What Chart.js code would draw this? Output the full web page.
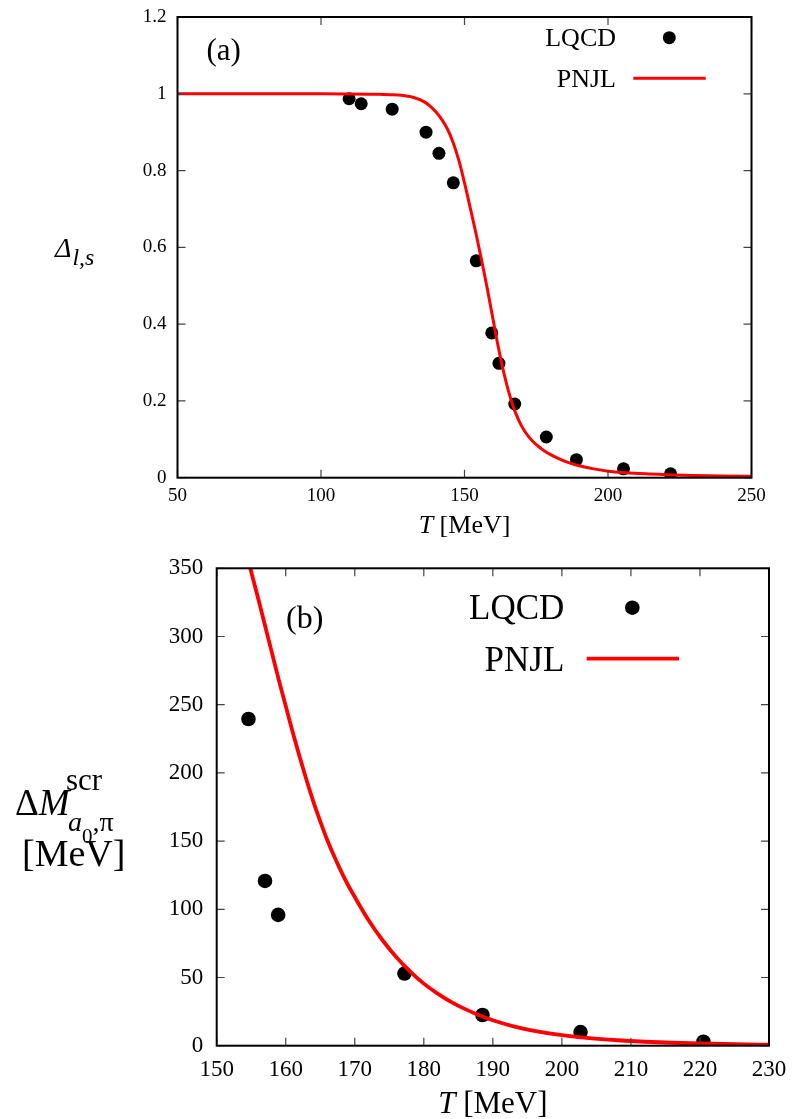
<!DOCTYPE html>
<html>
<head>
<meta charset="utf-8">
<script src="https://cdn.jsdelivr.net/npm/chart.js@4.4.1/dist/chart.umd.min.js"></script>
<style>
  html, body { margin:0; padding:0; background:#fff; }
  body { width:792px; height:1119px; position:relative; overflow:hidden; }
  #wrapA { position:absolute; left:0; top:0; width:792px; height:545px; }
  #wrapB { position:absolute; left:0; top:545px; width:792px; height:574px; }
</style>
</head>
<body>
<div id="wrapA"><canvas id="chartA" width="792" height="545"></canvas></div>
<div id="wrapB"><canvas id="chartB" width="792" height="574"></canvas></div>
<script>
// ---------- Panel (a) data ----------
const lqcdA_T     = [109.8, 114.0, 124.8, 136.6, 141.1, 146.1, 154.1, 159.5, 162.0, 167.5, 178.5, 189.0, 205.4, 221.8];
const lqcdA_Delta = [0.987, 0.974, 0.960, 0.900, 0.845, 0.768, 0.565, 0.377, 0.298, 0.192, 0.106, 0.047, 0.023, 0.010];

const pnjlA_T     = [50, 80, 100, 110, 116, 120, 124, 128, 132, 136, 138, 140, 142, 144, 146, 148, 150, 152, 154, 156, 158, 160, 162, 164, 166, 168, 170, 172, 174, 176, 178, 180, 183, 186, 190, 195, 200, 206, 213, 220, 230, 240, 250];
const pnjlA_Delta = [1, 1, 1, 0.9995, 0.999, 0.9985, 0.9975, 0.996, 0.991, 0.979, 0.968, 0.953, 0.934, 0.909, 0.874, 0.827, 0.768, 0.703, 0.636, 0.565, 0.49, 0.41, 0.332, 0.264, 0.208, 0.165, 0.133, 0.11, 0.093, 0.08, 0.069, 0.06, 0.049, 0.04, 0.031, 0.023, 0.017, 0.013, 0.01, 0.008, 0.006, 0.0045, 0.0035];

const xTicksA = [50, 100, 150, 200, 250];
const yTicksA = [0, 0.2, 0.4, 0.6, 0.8, 1, 1.2];

// ---------- Panel (b) data ----------
const lqcdB_T  = [154.6, 157.0, 158.9, 177.2, 188.5, 202.7, 220.5];
const lqcdB_dM = [239.5, 120.8, 95.9, 52.9, 22.5, 10.0, 2.9];

const pnjlB_T  = [154.86, 156, 157, 158, 159, 160, 161, 162, 163, 164, 165, 166, 167, 168, 169, 170, 172, 174, 176, 178, 180, 182, 184, 186, 188, 190, 193, 196, 200, 204, 208, 212, 216, 220, 225, 230];
const pnjlB_dM = [350, 328, 308, 288, 268, 249, 230, 212, 195, 179, 164.5, 151, 139, 128, 118, 109, 92, 77.5, 65, 54.5, 45.5, 38.2, 32, 26.8, 22.4, 18.7, 14.2, 10.9, 7.7, 5.5, 4.0, 2.9, 2.15, 1.6, 1.1, 0.75];

const xTicksB = [150, 160, 170, 180, 190, 200, 210, 220, 230];
const yTicksB = [0, 50, 100, 150, 200, 250, 300, 350];

const FAM = "'Liberation Serif', 'DejaVu Serif', serif";
const zip = (xs, ys) => xs.map((x, i) => ({x: x, y: ys[i]}));
const fmt = v => String(Math.round(v * 100) / 100);

// inward ticks on all four sides + full frame
const framePlugin = {
  id: 'frame',
  afterDraw(chart) {
    const ctx = chart.ctx, ca = chart.chartArea;
    const xs = chart.scales.x, ys = chart.scales.y;
    const L = 8;
    ctx.save();
    ctx.strokeStyle = '#444';
    ctx.lineWidth = 1.2;
    ctx.beginPath();
    xs.ticks.forEach(t => {
      const px = xs.getPixelForValue(t.value);
      ctx.moveTo(px, ca.bottom); ctx.lineTo(px, ca.bottom - L);
      ctx.moveTo(px, ca.top); ctx.lineTo(px, ca.top + L);
    });
    ys.ticks.forEach(t => {
      const py = ys.getPixelForValue(t.value);
      ctx.moveTo(ca.left, py); ctx.lineTo(ca.left + L, py);
      ctx.moveTo(ca.right, py); ctx.lineTo(ca.right - L, py);
    });
    ctx.stroke();
    ctx.strokeStyle = '#000';
    ctx.lineWidth = 2;
    ctx.strokeRect(ca.left, ca.top, ca.right - ca.left, ca.bottom - ca.top);
    ctx.restore();
  }
};

function runs(ctx, x, list) {
  list.forEach(r => {
    ctx.font = r.font;
    ctx.fillText(r.t, x, r.y);
    x += ctx.measureText(r.t).width;
  });
  return x;
}

function makeTextPlugin(cfg) {
  return {
    id: 'texts',
    afterDraw(chart) {
      const ctx = chart.ctx, ca = chart.chartArea;
      ctx.save();
      ctx.fillStyle = '#000';
      ctx.textBaseline = 'alphabetic';
      ctx.textAlign = 'left';
      // panel label
      ctx.font = cfg.panelFont;
      ctx.fillText(cfg.panel, ca.left + cfg.panelDx, ca.top + cfg.panelDy);
      // legend
      ctx.textAlign = 'right';
      ctx.font = cfg.legFont;
      const tx = ca.right - cfg.legTextR;
      ctx.fillText('LQCD', tx, ca.top + cfg.leg1Base);
      ctx.fillText('PNJL', tx, ca.top + cfg.leg2Base);
      ctx.beginPath();
      ctx.arc(ca.right - cfg.dotR, ca.top + cfg.dotY, cfg.dotRadius, 0, Math.PI * 2);
      ctx.fill();
      ctx.strokeStyle = 'rgb(255,0,0)';
      ctx.lineWidth = cfg.lineW;
      ctx.beginPath();
      ctx.moveTo(ca.right - cfg.lineX0, ca.top + cfg.lineY);
      ctx.lineTo(ca.right - cfg.lineX1, ca.top + cfg.lineY);
      ctx.stroke();
      // x axis title: italic T + [MeV], centered
      ctx.textAlign = 'left';
      ctx.font = 'italic ' + cfg.xtFont;
      const wT = ctx.measureText('T').width;
      ctx.font = cfg.xtFont;
      const wR = ctx.measureText(' [MeV]').width;
      const cx = (ca.left + ca.right) / 2;
      const x0 = cx - (wT + wR) / 2;
      ctx.font = 'italic ' + cfg.xtFont;
      ctx.fillText('T', x0, cfg.xtBase);
      ctx.font = cfg.xtFont;
      ctx.fillText(' [MeV]', x0 + wT, cfg.xtBase);
      // y axis title
      cfg.yTitle(ctx);
      ctx.restore();
    }
  };
}

const commonPlugins = { legend: { display: false }, tooltip: { enabled: false } };
const fitX = h => s => { s.height = h; s.paddingLeft = 0; s.paddingRight = 0; s.paddingTop = 0; s.paddingBottom = 0; };
const fitY = w => s => { s.width = w; s.paddingLeft = 0; s.paddingRight = 0; s.paddingTop = 0; s.paddingBottom = 0; };

// ---------- Chart (a) ----------
new Chart(document.getElementById('chartA'), {
  type: 'scatter',
  data: {
    datasets: [
      { label: 'PNJL', data: zip(pnjlA_T, pnjlA_Delta), showLine: true, borderColor: 'rgb(255,0,0)',
        borderWidth: 3, pointRadius: 0, cubicInterpolationMode: 'monotone', fill: false },
      { label: 'LQCD', data: zip(lqcdA_T, lqcdA_Delta), showLine: false, pointRadius: 6.5,
        pointBackgroundColor: '#000', pointBorderColor: '#000', pointBorderWidth: 0 }
    ]
  },
  options: {
    responsive: false, animation: false, devicePixelRatio: 1,
    layout: { padding: { left: 0, right: 40.5, top: 17, bottom: 0 } },
    plugins: commonPlugins,
    scales: {
      x: { type: 'linear', min: 50, max: 250,
           afterBuildTicks: s => { s.ticks = xTicksA.map(v => ({value: v})); },
           ticks: { font: { family: FAM, size: 19 }, color: '#000', padding: 7, autoSkip: false, maxRotation: 0, callback: fmt },
           grid: { display: false, drawTicks: false }, border: { display: false },
           afterFit: fitX(67.3) },
      y: { type: 'linear', min: 0, max: 1.2,
           afterBuildTicks: s => { s.ticks = yTicksA.map(v => ({value: v})); },
           ticks: { font: { family: FAM, size: 19 }, color: '#000', padding: 11, autoSkip: false, callback: fmt },
           grid: { display: false, drawTicks: false }, border: { display: false },
           afterFit: fitY(177.5) }
    }
  },
  plugins: [framePlugin, makeTextPlugin({
    panel: '(a)', panelFont: '31px ' + FAM, panelDx: 29, panelDy: 43,
    legFont: '26px ' + FAM, legTextR: 135.5, leg1Base: 29, leg2Base: 70,
    dotR: 82.2, dotY: 20.7, dotRadius: 6.5, lineX0: 118.2, lineX1: 45.8, lineY: 61.3, lineW: 3,
    xtFont: '26px ' + FAM, xtBase: 533,
    yTitle: ctx => {
      const x = runs(ctx, 55, [{t: 'Δ', font: 'italic 28px ' + FAM, y: 257}]);
      runs(ctx, x + 1, [{t: 'l,s', font: 'italic 24px ' + FAM, y: 265}]);
    }
  })]
});

// ---------- Chart (b) ----------
new Chart(document.getElementById('chartB'), {
  type: 'scatter',
  data: {
    datasets: [
      { label: 'PNJL', data: zip(pnjlB_T, pnjlB_dM), showLine: true, borderColor: 'rgb(255,0,0)',
        borderWidth: 3.8, pointRadius: 0, cubicInterpolationMode: 'monotone', fill: false },
      { label: 'LQCD', data: zip(lqcdB_T, lqcdB_dM), showLine: false, pointRadius: 7.3,
        pointBackgroundColor: '#000', pointBorderColor: '#000', pointBorderWidth: 0 }
    ]
  },
  options: {
    responsive: false, animation: false, devicePixelRatio: 1,
    layout: { padding: { left: 0, right: 23, top: 23.3, bottom: 0 } },
    plugins: commonPlugins,
    scales: {
      x: { type: 'linear', min: 150, max: 230,
           afterBuildTicks: s => { s.ticks = xTicksB.map(v => ({value: v})); },
           ticks: { font: { family: FAM, size: 23 }, color: '#000', padding: 10.5, autoSkip: false, maxRotation: 0, callback: fmt },
           grid: { display: false, drawTicks: false }, border: { display: false },
           afterFit: fitX(73.3) },
      y: { type: 'linear', min: 0, max: 350,
           afterBuildTicks: s => { s.ticks = yTicksB.map(v => ({value: v})); },
           ticks: { font: { family: FAM, size: 23 }, color: '#000', padding: 13.5, autoSkip: false, callback: fmt },
           grid: { display: false, drawTicks: false }, border: { display: false },
           afterFit: fitY(216.7) }
    }
  },
  plugins: [framePlugin, makeTextPlugin({
    panel: '(b)', panelFont: '32px ' + FAM, panelDx: 69.3, panelDy: 60,
    legFont: '35px ' + FAM, legTextR: 204.7, leg1Base: 51, leg2Base: 102.7,
    dotR: 136.7, dotY: 39.4, dotRadius: 7.3, lineX0: 182.3, lineX1: 90, lineY: 90.4, lineW: 3.8,
    xtFont: '31px ' + FAM, xtBase: 568,
    yTitle: ctx => {
      runs(ctx, 15, [{t: 'Δ', font: '37px ' + FAM, y: 270}, {t: 'M', font: 'italic 37px ' + FAM, y: 270}]);
      runs(ctx, 66, [{t: 'scr', font: '31px ' + FAM, y: 245}]);
      let xs = runs(ctx, 68, [{t: 'a', font: 'italic 28px ' + FAM, y: 286}]);
      xs = runs(ctx, xs, [{t: '0', font: '21px ' + FAM, y: 298}]);
      runs(ctx, xs, [{t: ',π', font: '28px ' + FAM, y: 286}]);
      runs(ctx, 22, [{t: '[MeV]', font: '38px ' + FAM, y: 321}]);
    }
  })]
});
</script>
</body>
</html>
